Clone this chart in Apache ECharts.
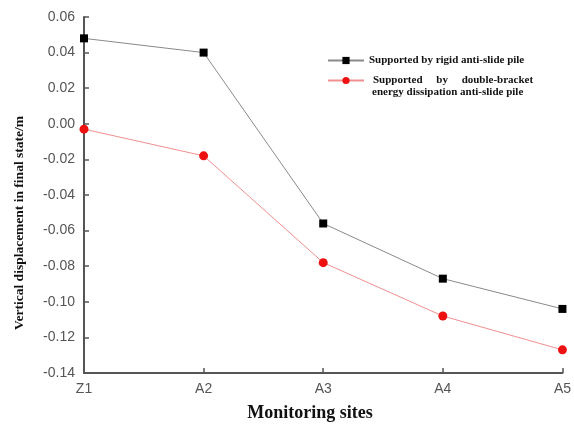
<!DOCTYPE html>
<html>
<head>
<meta charset="utf-8">
<script src="https://cdn.jsdelivr.net/npm/echarts@6/dist/echarts.min.js"></script>
<style>
  html, body { margin: 0; padding: 0; background: #fff; }
  #chart { width: 574px; height: 427px; }
</style>
</head>
<body>
<div id="chart"></div>
<script>
// Monitoring sites along the slope
const sites = ['Z1', 'A2', 'A3', 'A4', 'A5'];
// Vertical displacement in final state (m)
const rigidPile = [0.048, 0.040, -0.056, -0.087, -0.104];
const doubleBracketPile = [-0.003, -0.018, -0.078, -0.108, -0.127];

const rigidName = 'Supported by rigid anti-slide pile';
const doubleName = 'Supported by double-bracket energy dissipation anti-slide pile';

const serif = '"Liberation Serif", "Times New Roman", serif';
const sans = '"Liberation Sans", Arial, sans-serif';

const chart = echarts.init(document.getElementById('chart'));
chart.setOption({
  animation: false,
  backgroundColor: '#fff',
  grid: { left: 84, right: 8, top: 17, bottom: 54, containLabel: false },
  legend: [
    {
      data: [rigidName],
      left: 322, top: 50,
      itemWidth: 36, itemHeight: 9, itemGap: 0,
      formatter: () => 'Supported by rigid anti-slide pile',
      textStyle: { fontFamily: serif, fontWeight: 'bold', fontSize: 11, color: '#111' }
    },
    {
      data: [doubleName],
      left: 322, top: 70,
      itemWidth: 36, itemHeight: 9, itemGap: 0,
      formatter: () => 'Supported     by     double-bracket',
      textStyle: { fontFamily: serif, fontWeight: 'bold', fontSize: 11, color: '#111', padding: [0, 0, 0, 4] }
    }
  ],
  graphic: [
    {
      type: 'text', x: 372, y: 92,
      style: {
        text: 'energy dissipation anti-slide pile',
        font: 'bold 11px ' + serif, fill: '#111', verticalAlign: 'middle'
      }
    },
    {
      type: 'text', x: 20, y: 223, rotation: Math.PI / 2,
      style: {
        text: 'Vertical displacement in final state/m',
        font: 'bold 13.5px ' + serif, fill: '#111',
        align: 'center', verticalAlign: 'middle'
      }
    },
    {
      type: 'text', x: 310, y: 413,
      style: {
        text: 'Monitoring sites',
        font: 'bold 18px ' + serif, fill: '#111',
        align: 'center', verticalAlign: 'middle'
      }
    }
  ],
  xAxis: {
    type: 'category',
    data: sites,
    boundaryGap: false,
    axisLine: { onZero: false, lineStyle: { color: '#555', width: 2 } },
    axisTick: { inside: true, length: 5, alignWithLabel: true, lineStyle: { color: '#555', width: 1.5 } },
    axisLabel: { fontFamily: sans, fontSize: 14, color: '#555', margin: 9 },
    splitLine: { show: false }
  },
  yAxis: {
    type: 'value',
    min: -0.14, max: 0.06, interval: 0.02,
    axisLine: { show: true, lineStyle: { color: '#555', width: 2 } },
    axisTick: { show: true, inside: true, length: 5, lineStyle: { color: '#555', width: 1.5 } },
    axisLabel: {
      fontFamily: sans, fontSize: 14, color: '#555', margin: 9,
      formatter: v => (Math.abs(v) < 1e-9 ? 0 : v).toFixed(2)
    },
    splitLine: { show: false }
  },
  series: [
    {
      name: rigidName,
      type: 'line',
      data: rigidPile,
      symbol: 'rect', symbolSize: 8,
      itemStyle: { color: '#000' },
      lineStyle: { color: '#8a8a8a', width: 1 },
      z: 3
    },
    {
      name: doubleName,
      type: 'line',
      data: doubleBracketPile,
      symbol: 'circle', symbolSize: 9,
      itemStyle: { color: '#ee1111' },
      lineStyle: { color: '#f09090', width: 1 },
      z: 4
    }
  ]
});
</script>
</body>
</html>
